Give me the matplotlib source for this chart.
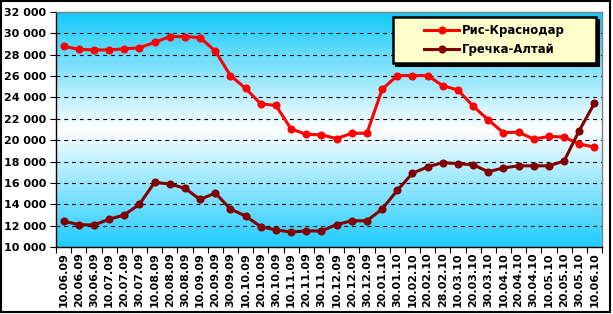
import matplotlib
matplotlib.use("Agg")
import matplotlib.pyplot as plt
import numpy as np
from matplotlib.colors import LinearSegmentedColormap
from matplotlib.patches import Rectangle
from matplotlib.ticker import FuncFormatter, FixedLocator

dates = [
    "10.06.09", "20.06.09", "30.06.09", "10.07.09", "20.07.09", "30.07.09",
    "10.08.09", "20.08.09", "30.08.09", "10.09.09", "20.09.09", "30.09.09",
    "10.10.09", "20.10.09", "30.10.09", "10.11.09", "20.11.09", "30.11.09",
    "10.12.09", "20.12.09", "30.12.09", "20.01.10", "30.01.10", "10.02.10",
    "20.02.10", "28.02.10", "10.03.10", "20.03.10", "30.03.10", "10.04.10",
    "20.04.10", "30.04.10", "10.05.10", "20.05.10", "30.05.10", "10.06.10",
]
rice = [
    28800, 28500, 28450, 28450, 28550, 28650, 29150, 29700, 29700, 29600,
    28350, 26050, 24850, 23400, 23250, 21050, 20550, 20500, 20150, 20650,
    20650, 24750, 26050, 26050, 26050, 25100, 24700, 23200, 21900, 20700,
    20750, 20100, 20350, 20300, 19650, 19350,
]
buckwheat = [
    12400, 12100, 12050, 12600, 13000, 14000, 16050, 15900, 15500, 14450,
    15050, 13550, 12900, 11900, 11600, 11400, 11500, 11500, 12100, 12450,
    12450, 13550, 15300, 16900, 17500, 17900, 17800, 17700, 17050, 17400,
    17600, 17600, 17600, 18050, 20900, 23450,
]
series_names = ["Рис-Краснодар", "Гречка-Алтай"]

fig = plt.figure(figsize=(6.13, 3.14), dpi=100)
ax = fig.add_axes([56 / 613, 67 / 314, 546 / 613, 235 / 314])

# cyan -> white -> cyan background of the plot area
cmap = LinearSegmentedColormap.from_list(
    "bg", [(0.0, "#1fcbff"), (0.5, "#ffffff"), (1.0, "#12c9f9")]
)
grad = np.linspace(0, 1, 256).reshape(-1, 1)
ax.imshow(grad, cmap=cmap, aspect="auto", origin="lower",
          extent=[0, 1, 0, 1], transform=ax.transAxes, zorder=0)

x = np.arange(len(dates))
ax.plot(x, rice, color="#ff0000", lw=2.2, marker="o", ms=4.8, zorder=3,
        label=series_names[0])
ax.plot(x, buckwheat, color="#800000", lw=2.2, marker="o", ms=4.8, zorder=3,
        label=series_names[1])

ax.set_xlim(-0.5, len(dates) - 0.5)
ax.set_ylim(10000, 32000)
ax.set_yticks(np.arange(10000, 32001, 2000))
ax.yaxis.set_major_formatter(FuncFormatter(lambda v, p: f"{int(v):,}".replace(",", " ")))
for v in range(12000, 32000, 2000):
    ax.axhline(v, color="black", lw=0.8, dashes=(3.5, 3.5), zorder=1)

ax.set_xticks(x)
ax.set_xticklabels(dates, rotation=90, fontsize=8, fontweight="bold")
ax.xaxis.set_minor_locator(FixedLocator(np.arange(-0.5, len(dates), 1.0)))
ax.tick_params(axis="x", which="major", length=0, pad=4)
ax.tick_params(axis="x", which="minor", length=4, width=0.8, color="black")
ax.tick_params(axis="y", length=4, width=0.8, pad=3, labelsize=8)
for lbl in ax.get_yticklabels():
    lbl.set_fontweight("bold")

ax.spines["left"].set_color("black")
ax.spines["bottom"].set_color("black")
ax.spines["top"].set_color("#808080")
ax.spines["right"].set_color("#808080")
for s in ax.spines.values():
    s.set_linewidth(1.0)

# legend box with a hard black shadow, entries centred inside it
box_x0, box_x1, box_y0, box_y1 = 0.617, 0.989, 0.783, 0.979
ax.add_patch(Rectangle((box_x0 + 0.006, box_y0 - 0.013), box_x1 - box_x0,
                       box_y1 - box_y0, transform=ax.transAxes,
                       facecolor="black", edgecolor="black", lw=1.5, zorder=4))
ax.add_patch(Rectangle((box_x0, box_y0), box_x1 - box_x0, box_y1 - box_y0,
                       transform=ax.transAxes, facecolor="#ffffcc",
                       edgecolor="black", lw=1.8, zorder=4.5))
leg = ax.legend(loc="center",
                bbox_to_anchor=((box_x0 + box_x1) / 2, (box_y0 + box_y1) / 2),
                frameon=False, prop={"weight": "bold", "size": 8.4},
                handlelength=3.0, labelspacing=0.5, handletextpad=0.2)
leg.set_zorder(5)

fig.patches.append(Rectangle((1 / 613, 2 / 314), 609 / 613, 311 / 314,
                             transform=fig.transFigure, fill=False,
                             edgecolor="black", lw=1.5))

fig.savefig("out.png", dpi=100)
